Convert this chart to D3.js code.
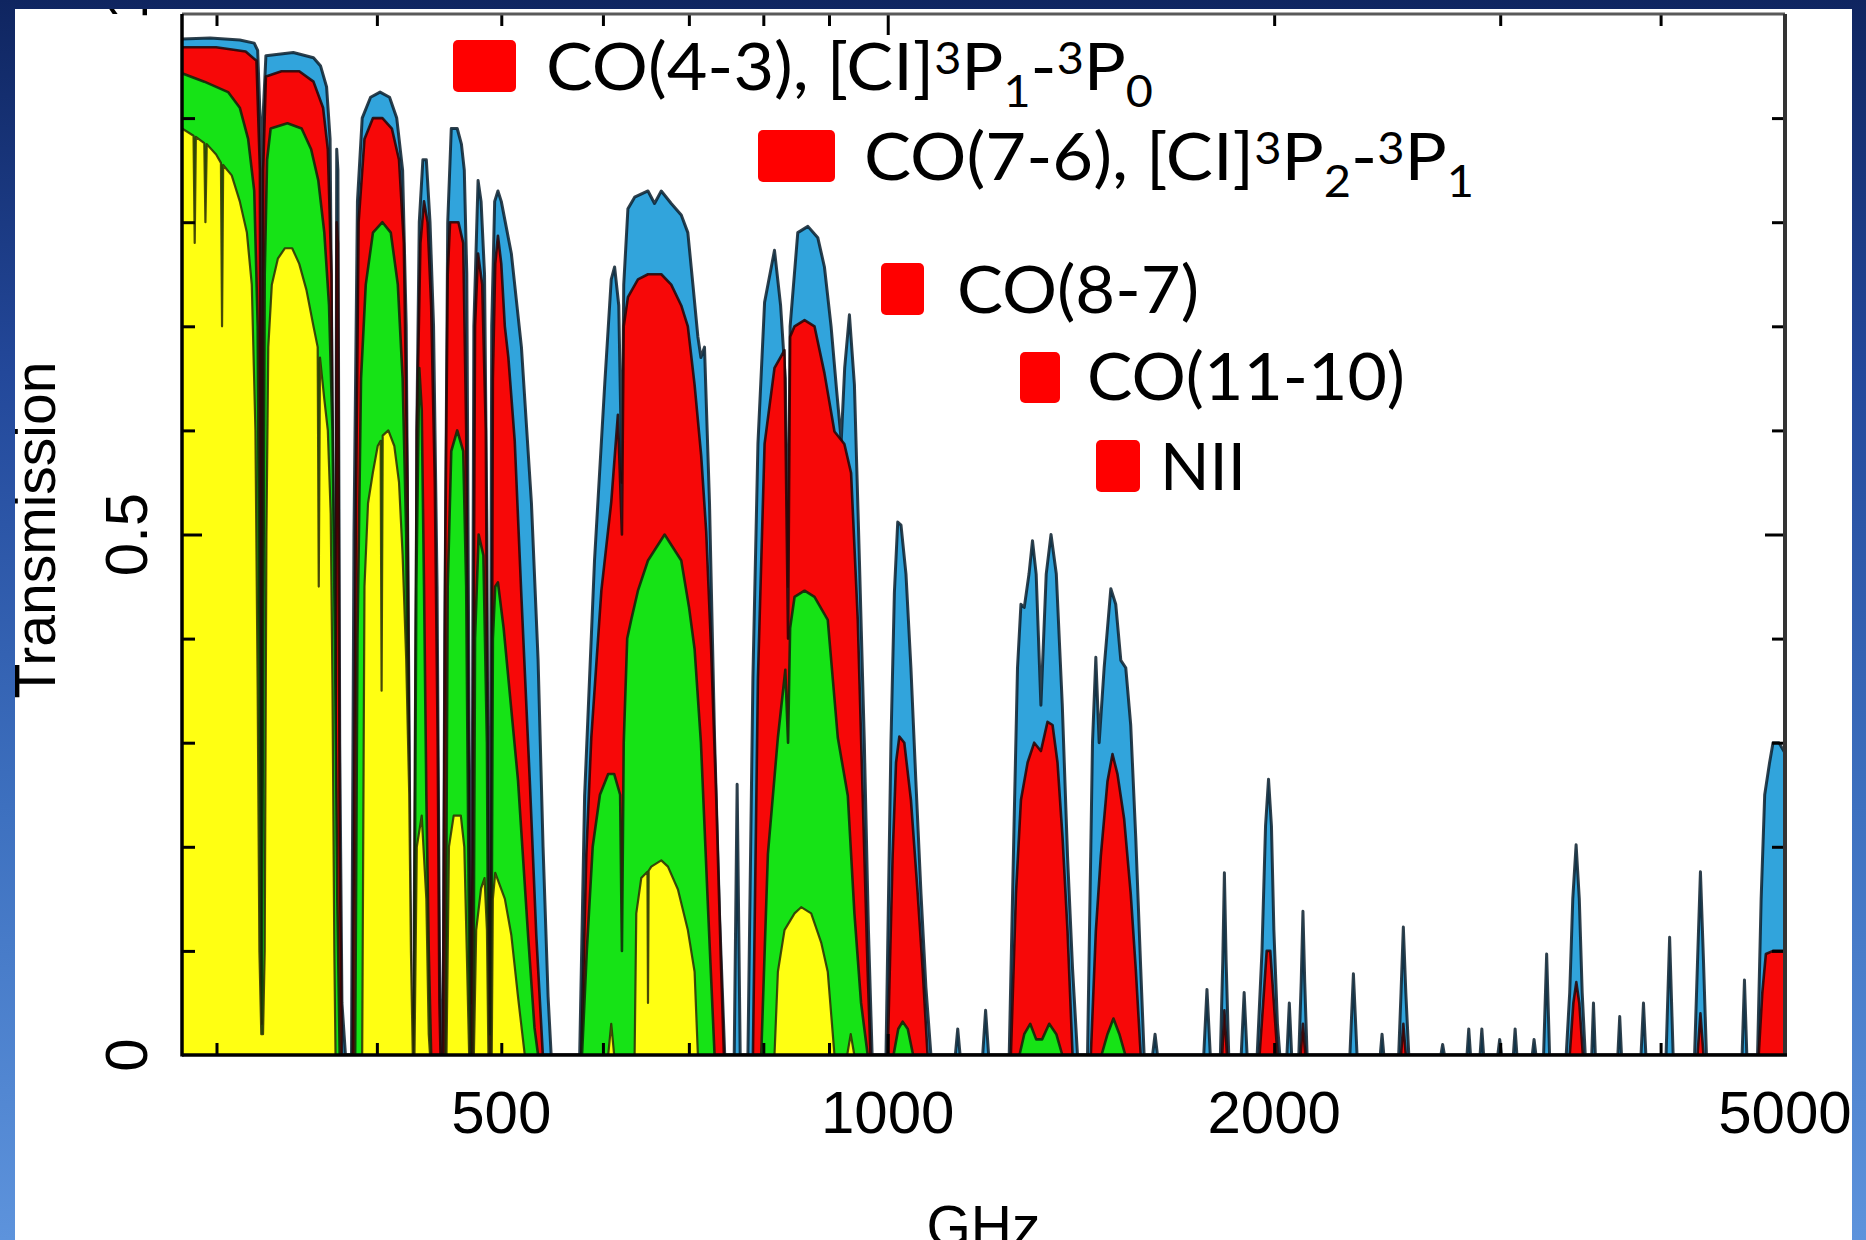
<!DOCTYPE html>
<html><head><meta charset="utf-8">
<script src="https://cdn.jsdelivr.net/npm/d3@7"></script>
<style>
html,body{margin:0;padding:0;background:#fff;}
svg{display:block}
</style></head><body>
<svg id="c" width="1866" height="1240"></svg>
<script>
// ---------------- DATA (frequency in GHz, transmission 0..1) ----------------
const blueFreq = [282,296.6,312.8,321.0,323.0,324.4,325.2,326.1,327.8,344.3,357.0,361.6,365.5,367.8,369.4,370.6,371.4,372.2,373.0,374.2,375.7,378.1,382.2,383.9,386.3,389.6,395.5,402.3,409.2,414.5,418.9,421.6,423.9,425.2,427.0,428.3,429.7,431.6,434.4,437.1,440.0,442.8,445.6,447.5,448.9,450.4,451.8,454.2,457.1,462.0,465.5,467.9,470.0,472.0,473.5,474.5,476.0,479.6,482.2,485.2,487.3,488.8,489.9,491.5,494.1,497.0,500.0,509.1,518.4,527.8,534.1,538.9,543.8,546.8,575.5,580.6,591.0,601.9,609.0,612.7,617.3,620.8,622.8,627.5,635.1,650.5,658.2,666.2,678.2,690.5,698.7,705.1,711.4,715.3,719.9,726.4,733.0,739.5,746.5,759.3,763.3,767.5,778.2,785.2,792.3,801.8,816.2,825.2,832.2,836.3,839.4,851.0,866.6,882.2,892.7,903.4,912.2,920.0,925.7,933.6,942.0,950.5,958.9,966.0,972.4,996.9,1005.8,1012.0,1018.1,1024.1,1033.3,1042.5,1051.8,1061.5,1070.9,1080.6,1129.0,1133.8,1138.6,1185.7,1191.9,1198.4,1243.5,1254.6,1262.1,1269.9,1277.5,1288.4,1296.5,1305.1,1316.2,1328.8,1340.3,1353.1,1367.7,1380.6,1393.1,1405.5,1431.0,1443.8,1452.5,1461.2,1474.3,1492.1,1505.3,1519.1,1532.6,1546.3,1560.3,1574.3,1583.9,1608.2,1615.3,1622.2,1762.7,1772.9,1783.5,1816.1,1823.9,1829.2,1834.9,1843.5,1885.2,1895.2,1905.2,1940.0,1956.8,1969.3,1979.9,1990.3,1999.0,2011.8,2020.4,2046.3,2055.1,2063.8,2090.4,2099.4,2106.0,2112.7,2121.7,2291.0,2305.5,2320.6,2419.3,2427.0,2434.7,2500.5,2511.1,2521.5,2532.7,2546.3,2697.2,2705.7,2714.4,2826.5,2835.4,2844.4,2893.6,2902.8,2912.0,2987.1,2997.2,3006.8,3071.6,3081.4,3091.2,3177.7,3187.8,3198.5,3242.7,3260.6,3277.8,3377.0,3398.3,3417.0,3437.5,3457.2,3475.2,3494.4,3535.2,3546.3,3558.2,3704.8,3717.2,3729.0,3861.9,3879.1,3895.7,4039.4,4065.3,4091.1,4251.4,4274.0,4296.3,4320.0,4342.8,4629.6,4649.4,4669.1,4759.8,4790.5,4821.2,4862.4,4893.7,4946.1,5000];
const blueTrans = [.976,.977,.975,.972,.965,.90,.05,.90,.96,.963,.958,.95,.93,.88,.60,.20,.30,.87,.85,.30,.05,0,0,.50,.82,.90,.92,.925,.92,.90,.85,.70,.30,.02,.02,0,.60,.80,.86,.86,.80,.70,.45,.10,0,0,.40,.80,.89,.89,.875,.85,.75,.30,.05,.20,.70,.84,.82,.75,.50,.05,.05,.70,.82,.83,.82,.77,.68,.53,.38,.20,.056,0,0,.249,.475,.644,.745,.757,.72,.55,.74,.813,.824,.83,.818,.83,.818,.807,.79,.74,.69,.67,.68,.53,.305,.136,0,0,.26,0,0,.362,.587,.723,.773,.72,.65,.45,.70,.79,.796,.785,.757,.70,.64,.59,.66,.711,.644,.475,.30,.12,0,0,.30,.444,.512,.509,.462,.372,.263,.155,.065,0,0,.025,0,0,.043,0,0,.227,.372,.433,.43,.462,.494,.462,.336,.462,.50,.462,.336,.191,.083,0,0,.30,.382,.30,.372,.448,.433,.379,.372,.317,.209,.083,0,0,.02,0,0,.063,0,0,.09,.175,.09,0,0,.06,0,0,.10,.22,.265,.22,.12,.03,0,0,.05,0,0,.07,.138,.07,0,0,.078,0,0,.02,0,0,.06,.123,.06,0,0,.01,0,0,.025,0,0,.025,0,0,.015,0,0,.025,0,0,.015,0,0,.097,0,0,.06,.15,.202,.15,.06,0,0,.05,0,0,.037,0,0,.05,0,0,.113,0,0,.09,.176,.09,0,0,.072,0,0,.15,.25,.28,.30,.30,.29];

const redFreq = [282,299.8,316.1,322.3,324.3,325.2,326.2,327.8,337.1,348.0,357.0,363.2,366.3,368.7,370.2,371.4,372.2,373.0,374.2,375.7,383.0,385.1,387.1,391.2,397.2,404.0,410.9,416.2,419.8,422.5,424.3,425.6,427.0,429.7,432.5,435.3,438.1,440.9,443.8,446.1,447.5,448.4,450.4,452.3,454.2,456.1,463.0,467.0,469.5,472.0,473.5,475.0,477.0,479.6,483.2,486.3,488.3,489.9,491.0,492.5,494.6,497.0,500.0,503.2,506.4,512.2,518.4,526.2,532.4,538.7,577.2,582.4,587.6,598.3,609.0,616.3,620.8,622.8,627.5,638.9,650.5,666.2,678.2,690.5,698.7,707.2,715.6,722.1,728.5,735.1,741.8,745.4,785.2,792.3,801.8,816.2,831.0,836.3,839.4,846.1,861.4,876.9,892.7,908.9,925.2,936.4,947.7,956.1,964.7,969.6,999.9,1008.8,1015.0,1021.1,1030.2,1042.5,1055.2,1064.6,1074.1,1247.2,1258.6,1269.9,1285.2,1300.5,1316.2,1331.9,1344.0,1356.0,1368.3,1380.6,1393.1,1439.5,1452.5,1465.5,1483.2,1496.5,1509.9,1528.1,1546.3,1560.3,1574.3,1821.9,1829.2,1837.7,1948.3,1961.0,1973.4,1986.1,1999.0,2011.8,2097.1,2106.0,2115.0,2511.1,2521.5,2532.7,3398.3,3420.6,3438.8,3457.2,3479.5,4274.0,4296.3,4320.0,4769.7,4800.7,4831.2,4893.7,5000];
const redTrans = [.968,.968,.964,.955,.85,.03,.85,.94,.945,.945,.935,.91,.87,.75,.30,.20,.80,.78,.20,0,0,.50,.80,.88,.90,.90,.89,.86,.78,.55,.15,0,0,.60,.78,.82,.80,.72,.55,.30,.05,0,0,.50,.75,.80,.80,.78,.60,.20,0,.20,.70,.77,.74,.60,.20,.02,.10,.65,.76,.787,.76,.70,.67,.59,.44,.264,.115,0,0,.193,.305,.446,.531,.615,.50,.70,.728,.745,.75,.75,.74,.72,.70,.644,.576,.503,.39,.249,.08,0,0,.362,.587,.66,.677,.40,.69,.70,.706,.70,.655,.599,.587,.559,.418,.249,.08,0,0,.191,.281,.306,.30,.245,.155,.083,0,0,.155,.245,.281,.30,.292,.32,.317,.281,.209,.119,0,0,.119,.191,.263,.289,.27,.227,.155,.083,0,0,.043,0,0,.05,.10,.10,.05,0,0,.03,0,0,.03,0,0,.05,.07,.05,0,0,.04,0,0,.06,.097,.10,.10];

const greenFreq = [282,293.5,306.3,312.8,317.5,321.0,323.0,324.4,325.2,326.0,327.1,328.5,330.6,340.7,349.5,355.5,360.1,364.0,367.1,369.4,371.0,372.6,374.2,384.7,386.3,388.8,392.1,397.2,404.0,410.1,415.3,418.9,421.6,423.9,425.6,427.5,429.3,431.6,433.5,435.3,437.1,439.0,440.9,452.3,454.2,457.1,462.0,467.0,469.5,472.0,473.0,475.5,477.0,480.1,484.2,487.3,488.8,491.0,492.5,494.6,497.0,502.1,515.2,524.6,530.7,534.1,577.9,582.9,589.1,596.8,605.7,612.2,618.8,620.8,622.8,626.7,631.2,638.9,650.5,670.2,690.5,700.2,707.2,715.3,724.5,733.0,797.0,806.6,821.2,832.2,836.3,839.4,846.1,861.4,876.9,898.0,914.3,930.9,942.0,953.3,964.7,1010.5,1019.1,1027.2,1036.6,1046.6,1266.6,1277.5,1291.2,1305.1,1319.1,1336.0,1353.1,1367.7,1467.4,1483.2,1499.1,1515.2,1531.4];
const greenTrans = [.943,.935,.925,.91,.88,.83,.70,.30,.03,.30,.75,.86,.89,.895,.89,.87,.84,.79,.72,.60,.40,.15,0,0,.40,.65,.74,.79,.80,.79,.74,.65,.50,.20,0,0,.45,.66,.62,.45,.25,.10,0,0,.45,.58,.60,.58,.45,.10,0,0,.40,.50,.48,.30,0,0,.40,.45,.454,.41,.264,.115,.026,0,0,.10,.20,.25,.27,.27,.25,.10,.30,.40,.418,.446,.475,.50,.475,.43,.39,.30,.14,0,0,.193,.305,.37,.30,.41,.44,.446,.44,.418,.305,.249,.136,.05,0,0,.025,.032,.025,0,0,.02,.03,.015,.015,.03,.02,0,0,.02,.035,.02,0];

const yellowFreq = [282,287.9,288.5,289.1,293.5,294.1,294.8,299.8,302.4,303.0,303.6,308.3,312.8,316.8,319.6,321.7,323.0,324.0,325.1,326.1,327.1,328.1,329.2,331.3,334.9,339.2,343.6,348.0,352.5,357.0,359.7,360.4,361.2,364.0,366.3,368.2,369.4,370.6,371.4,389.6,391.2,393.7,397.2,400.6,402.7,403.4,404.2,408.3,412.7,416.2,418.9,421.6,423.9,425.2,426.6,427.9,429.7,433.5,437.1,439.0,440.0,453.2,455.2,459.1,465.0,467.9,470.0,472.0,476.0,478.0,482.2,485.2,487.3,488.6,491.5,492.5,494.6,503.2,509.1,515.2,521.5,605.7,609.0,612.2,635.1,637.0,642.7,649.9,650.5,651.3,654.4,666.2,674.2,686.4,698.7,707.2,711.4,816.2,821.2,831.0,846.1,856.2,871.7,887.5,898.0,908.9,929.9,935.8,941.8];
const yellowTrans = [.89,.883,.78,.882,.876,.80,.875,.865,.857,.70,.855,.845,.82,.79,.74,.60,.35,.10,.02,.02,.10,.50,.68,.74,.765,.775,.775,.76,.735,.70,.68,.45,.67,.63,.60,.52,.35,.10,0,0,.45,.53,.56,.585,.59,.35,.595,.60,.585,.55,.48,.38,.25,.10,0,0,.20,.23,.15,.02,0,0,.20,.23,.23,.20,.10,0,0,.12,.16,.17,.12,0,0,.15,.175,.15,.115,.056,0,0,.03,0,0,.136,.17,.176,.05,.177,.181,.187,.181,.159,.12,.08,0,0,.08,.12,.136,.142,.136,.108,.08,0,0,.02,0];

const xTickLabels = [500, 1000, 2000, 5000];
const xMinorTicks = [300, 400, 500, 600, 700, 800, 900, 2000, 3000, 4000];
const xMajorTicks = [1000];
const yTickLabels = [0, 0.5, 1];
const yMinorTicks = [0.1, 0.2, 0.3, 0.4, 0.6, 0.7, 0.8, 0.9];
const yMajorTicks = [0.5];

const legendLabels = [
  [["CO(4-3), [CI]", "n"], ["3", "sup"], ["P", "n"], ["1", "sub"], ["-", "n"], ["3", "sup"], ["P", "n"], ["0", "sub"]],
  [["CO(7-6), [CI]", "n"], ["3", "sup"], ["P", "n"], ["2", "sub"], ["-", "n"], ["3", "sup"], ["P", "n"], ["1", "sub"]],
  [["CO(8-7)", "n"]],
  [["CO(11-10)", "n"]],
  [["NII", "n"]]
];

// ---------------- LAYOUT ----------------
const W = 1866, H = 1240;
const L = 182, R = 1785, T = 14, B = 1055;
const svg = d3.select('#c');
const defs = svg.append('defs');
const grad = defs.append('linearGradient').attr('id','bg').attr('gradientUnits','userSpaceOnUse')
  .attr('x1',0).attr('y1',0).attr('x2',0).attr('y2',H);
[[0,'#0f2560'],[0.3,'#23489a'],[0.65,'#3d70bf'],[1,'#5d93dc']].forEach(s=>grad.append('stop').attr('offset',s[0]).attr('stop-color',s[1]));
defs.append('clipPath').attr('id','plotclip').append('rect').attr('x',L).attr('y',T-2).attr('width',R-L).attr('height',B-T+2);

svg.append('rect').attr('width',W).attr('height',H).attr('fill','url(#bg)');
svg.append('rect').attr('x',15).attr('y',9).attr('width',1852-15).attr('height',H-9).attr('fill','#ffffff');

const x = d3.scaleLog().domain([282, 5000]).range([L, R]);
const y = d3.scaleLinear().domain([0, 1]).range([B, T]);

const series = [
  {f: blueFreq,   t: blueTrans,   fill: '#31a4dc', stroke: '#0b1f2d', sw: 3.0},
  {f: redFreq,    t: redTrans,    fill: '#f70808', stroke: '#220303', sw: 2.6},
  {f: greenFreq,  t: greenTrans,  fill: '#16e316', stroke: '#0a250a', sw: 2.6},
  {f: yellowFreq, t: yellowTrans, fill: '#ffff12', stroke: '#2a2a05', sw: 2.2}
];
const area = d3.area().x(d => x(d[0])).y0(y(0)).y1(d => y(d[1]));
const line = d3.line().x(d => x(d[0])).y(d => y(d[1]));
const gPlot = svg.append('g').attr('clip-path','url(#plotclip)');
series.forEach(s => {
  const pts = d3.zip(s.f, s.t);
  gPlot.append('path').datum(pts).attr('d', area).attr('fill', s.fill);
  gPlot.append('path').datum(pts).attr('d', line).attr('fill','none')
    .attr('stroke', s.stroke).attr('stroke-width', s.sw).attr('stroke-opacity',0.85).attr('stroke-linejoin','round');
});

// ---------------- AXES / FRAME ----------------
const gAx = svg.append('g');
function ticks(axisGen, tr, vals, size) {
  const g = gAx.append('g').attr('transform', tr)
    .call(axisGen.tickValues(vals).tickSize(size).tickFormat(''));
  g.select('.domain').remove();
  g.selectAll('line').attr('stroke','#000').attr('stroke-width',3);
}
ticks(d3.axisRight(y), `translate(${L},0)`, yMinorTicks, 13);
ticks(d3.axisRight(y), `translate(${L},0)`, yMajorTicks, 20);
ticks(d3.axisLeft(y), `translate(${R},0)`, yMinorTicks, 13);
ticks(d3.axisLeft(y), `translate(${R},0)`, yMajorTicks, 20);
ticks(d3.axisBottom(x), `translate(0,${T})`, xMinorTicks, 12);
ticks(d3.axisBottom(x), `translate(0,${T})`, xMajorTicks, 21);
ticks(d3.axisTop(x), `translate(0,${B})`, xMinorTicks, 12);
ticks(d3.axisTop(x), `translate(0,${B})`, xMajorTicks, 21);

gAx.append('line').attr('x1',L).attr('x2',R).attr('y1',T).attr('y2',T).attr('stroke','#5a5a5a').attr('stroke-width',3);
gAx.append('line').attr('x1',R).attr('x2',R).attr('y1',T).attr('y2',B).attr('stroke','#333').attr('stroke-width',4);
gAx.append('line').attr('x1',L).attr('x2',L).attr('y1',T).attr('y2',B+1.5).attr('stroke','#000').attr('stroke-width',3.5);
gAx.append('line').attr('x1',L).attr('x2',R+2).attr('y1',B).attr('y2',B).attr('stroke','#000').attr('stroke-width',3.5);

const axFont = "'Liberation Sans', Arial, sans-serif";
svg.append('g').selectAll('text').data(xTickLabels).join('text')
  .attr('x', d => x(d)).attr('y', 1133).attr('text-anchor','middle')
  .attr('font-family', axFont).attr('font-size', 60).attr('fill','#000').text(d => d);
// the top label sits partly under the slide's top band, as in the original
svg.append('g').selectAll('text').data(yTickLabels).join('text')
  .attr('transform', d => `translate(147,${y(d) - (d === 1 ? 11 : 0)}) rotate(-90)`).attr('text-anchor','middle')
  .attr('font-family', axFont).attr('font-size', 60).attr('fill','#000').text(d => d);
svg.append('text').attr('transform','translate(55,530) rotate(-90)').attr('text-anchor','middle')
  .attr('font-family', axFont).attr('font-size', 57).attr('fill','#000').text('Transmission');
svg.append('text').attr('x', (L+R)/2).attr('y', 1246).attr('text-anchor','middle')
  .attr('font-family', axFont).attr('font-size', 57).attr('fill','#000').text('GHz');

// ---------------- LEGEND ----------------
const legendBoxes = [[453,40,63,52],[758,130,77,52],[881,263,43,52],[1020,352,40,51],[1096,440,44,52]];
const legendText = [[546,90,607],[864,180,610],[957,313,242],[1087,400,318],[1160,490,86]];
const gLeg = svg.append('g');
legendLabels.forEach((segs, i) => {
  const b = legendBoxes[i], t = legendText[i];
  gLeg.append('rect').attr('x',b[0]).attr('y',b[1]).attr('width',b[2]).attr('height',b[3]).attr('rx',5).attr('fill','#ff0000');
  const tx = gLeg.append('text').attr('x',t[0]).attr('y',t[1])
    .attr('font-family',"Lato, 'Open Sans', sans-serif").attr('font-size',66).attr('fill','#000')
    .attr('textLength',t[2]).attr('lengthAdjust','spacingAndGlyphs');
  let shift = 0;
  segs.forEach(([s, kind]) => {
    const target = kind === 'sup' ? -16 : kind === 'sub' ? 17 : 0;
    tx.append('tspan').attr('dy', target - shift).attr('font-size', kind === 'n' ? 66 : 44).text(s);
    shift = target;
  });
});

// ---------------- SLIDE FRAME (on top) ----------------
svg.append('rect').attr('x',0).attr('y',0).attr('width',15).attr('height',H).attr('fill','url(#bg)');
svg.append('rect').attr('x',1852).attr('y',0).attr('width',W-1852).attr('height',H).attr('fill','url(#bg)');
svg.append('rect').attr('x',0).attr('y',0).attr('width',W).attr('height',9).attr('fill','url(#bg)');
</script></body></html>
